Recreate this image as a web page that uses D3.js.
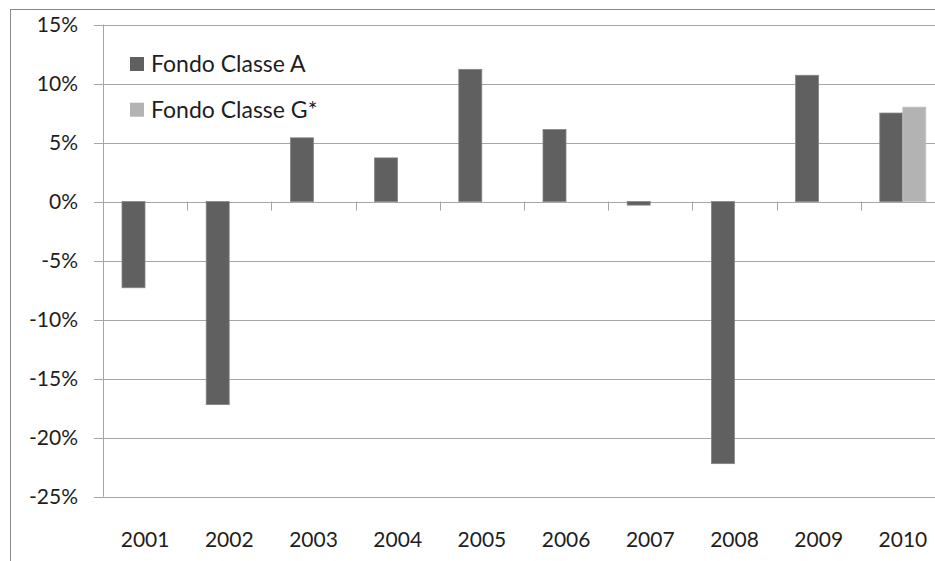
<!DOCTYPE html>
<html>
<head>
<meta charset="utf-8">
<script src="https://cdn.jsdelivr.net/npm/d3@7"></script>
<style>
  body { margin: 0; background: #fff; }
  svg { display: block; font-family: Lato, "Open Sans", sans-serif; }
</style>
</head>
<body>
<div id="chart"></div>
<script>
// values (percent)
const years = ["2001", "2002", "2003", "2004", "2005", "2006", "2007", "2008", "2009", "2010"];
const classeA = [-7.3, -17.2, 5.4, 3.7, 11.2, 6.1, -0.3, -22.2, 10.7, 7.5];
const classeG = [null, null, null, null, null, null, null, null, null, 8.0];
const seriesNames = ["Fondo Classe A", "Fondo Classe G*"];
const seriesColors = ["#606060", "#b3b3b3"];
const yTicks = [-25, -20, -15, -10, -5, 0, 5, 10, 15];

const width = 935;
const height = 561;
const gridColor = "#a6a6a6";
const textColor = "#1e1e1e";

const svg = d3.select("#chart")
  .append("svg")
  .attr("width", width)
  .attr("height", height);

// outer chart border (only top and left edges visible)
svg.append("rect")
  .attr("x", 10.5)
  .attr("y", 9.5)
  .attr("width", 1000)
  .attr("height", 1000)
  .attr("fill", "none")
  .attr("stroke", "#8a8a8a");

// scales
const x = d3.scaleBand()
  .domain(years)
  .range([103, 945])
  .padding(0);

const x1 = d3.scaleBand()
  .domain(["A", "G"])
  .range([19, 65])
  .padding(0);

const y = d3.scaleLinear()
  .domain([-25, 15])
  .range([496.7, 24.5]);

// horizontal gridlines + y labels
const yAxis = d3.axisLeft(y)
  .tickValues(yTicks)
  .tickSize(-(width - 94))
  .tickPadding(16)
  .tickFormat(d => d + "%");

const yG = svg.append("g")
  .attr("transform", "translate(94,0)")
  .call(yAxis);
yG.select(".domain").remove();
yG.selectAll(".tick line")
  .attr("stroke", gridColor)
  .attr("shape-rendering", "crispEdges");
yG.selectAll(".tick text")
  .attr("fill", textColor)
  .style("font-size", "21px")
  .style("font-family", "Lato, 'Open Sans', sans-serif");

// vertical axis line
svg.append("line")
  .attr("x1", x.range()[0] + 0.5)
  .attr("x2", x.range()[0] + 0.5)
  .attr("y1", y(15))
  .attr("y2", y(-25))
  .attr("stroke", gridColor);

// category boundary ticks on the zero line
svg.append("g")
  .selectAll("line")
  .data(years)
  .enter().append("line")
  .attr("x1", d => Math.round(x(d) + x.step()) + 0.5)
  .attr("x2", d => Math.round(x(d) + x.step()) + 0.5)
  .attr("y1", y(0))
  .attr("y2", y(0) + 9)
  .attr("stroke", gridColor);

// bars
const rows = years.map((yr, i) => ({ year: yr, A: classeA[i], G: classeG[i] }));

const groups = svg.append("g")
  .selectAll("g")
  .data(rows)
  .enter().append("g")
  .attr("transform", d => `translate(${x(d.year)},0)`);

groups.selectAll("rect")
  .data(d => [{ key: "A", value: d.A, color: seriesColors[0] }, { key: "G", value: d.G, color: seriesColors[1] }]
    .filter(v => v.value !== null))
  .enter().append("rect")
  .attr("x", d => x1(d.key))
  .attr("width", x1.bandwidth())
  .attr("y", d => y(Math.max(0, d.value)))
  .attr("height", d => Math.abs(y(d.value) - y(0)))
  .attr("fill", d => d.color)
  .attr("stroke", d => d.key === "A" ? "#858585" : "#c4c4c4")
  .attr("stroke-width", 0.8);

// x labels
const xAxis = d3.axisBottom(x)
  .tickSize(0)
  .tickPadding(35);

const xG = svg.append("g")
  .attr("transform", `translate(0,${y(-25)})`)
  .call(xAxis);
xG.select(".domain").remove();
xG.selectAll(".tick text")
  .attr("fill", textColor)
  .style("font-size", "21px")
  .style("font-family", "Lato, 'Open Sans', sans-serif");

// legend
const legend = svg.append("g")
  .selectAll("g")
  .data(seriesNames)
  .enter().append("g")
  .attr("transform", (d, i) => `translate(130,${57 + i * 45.7})`);

legend.append("rect")
  .attr("width", 14)
  .attr("height", 14)
  .attr("fill", (d, i) => seriesColors[i]);

legend.append("text")
  .attr("x", 21)
  .attr("y", 14.9)
  .attr("fill", textColor)
  .style("font-size", "23px")
  .text(d => d);
</script>
</body>
</html>
